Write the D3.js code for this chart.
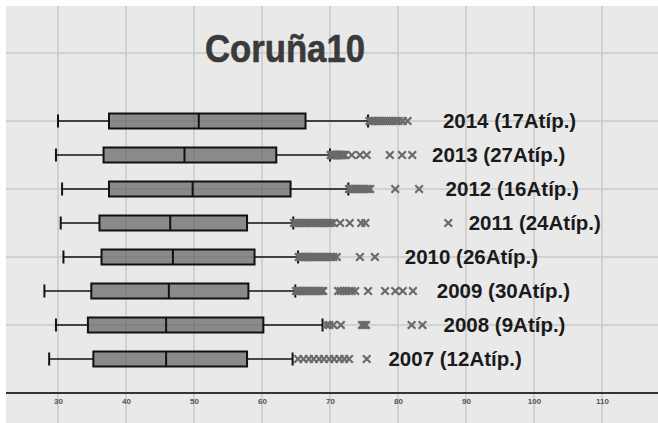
<!DOCTYPE html>
<html>
<head>
<meta charset="utf-8">
<script src="https://cdn.jsdelivr.net/npm/d3@7"></script>
<style>
  body { margin: 0; background: #fff; }
  svg { display: block; }
</style>
</head>
<body>
<div id="chart"></div>
<script>
// data
var years = ["2014", "2013", "2012", "2011", "2010", "2009", "2008", "2007"];
var lowWhisker  = [30.0, 29.7, 30.6, 30.4, 30.8, 28.0, 29.7, 28.7];
var q1          = [37.5, 36.7, 37.5, 36.1, 36.4, 34.9, 34.4, 35.2];
var median      = [50.7, 48.6, 49.8, 46.5, 46.9, 46.3, 45.9, 45.9];
var q3          = [66.4, 62.1, 64.2, 57.8, 58.9, 58.0, 60.2, 57.8];
var highWhisker = [75.6, 70.0, 72.7, 64.6, 65.3, 64.9, 68.9, 64.5];
var outliers = [
  [75.8, 76.1, 76.3, 76.6, 76.9, 77.1, 77.4, 77.7, 78.0, 78.3, 78.6, 78.9, 79.2, 79.6, 80.1, 80.7, 81.4],
  [70.1, 70.2, 70.3, 70.4, 70.5, 70.6, 70.7, 70.8, 70.9, 71.0, 71.1, 71.2, 71.3, 71.4, 71.5, 71.6, 71.7, 71.8, 71.9, 72.0,
   72.2, 73.2, 74.4, 75.4, 78.8, 80.6, 82.1],
  [72.8, 73.0, 73.2, 73.4, 73.6, 73.9, 74.1, 74.3, 74.6, 74.8, 75.1, 75.4, 75.6, 75.9, 79.6, 83.1],
  [64.7, 65.0, 65.3, 65.6, 65.9, 66.2, 66.5, 66.9, 67.2, 67.5, 67.8, 68.1, 68.4, 68.7, 69.1, 69.4, 69.8, 70.1, 70.5,
   71.5, 72.9, 74.6, 75.2, 87.4],
  [65.4, 65.6, 65.8, 66.0, 66.2, 66.4, 66.7, 66.9, 67.1, 67.3, 67.6, 67.8, 68.0, 68.3, 68.5, 68.7, 69.0, 69.2, 69.5, 69.7,
   70.0, 70.2, 70.5, 71.0, 74.4, 76.6],
  [65.0, 65.2, 65.4, 65.7, 65.9, 66.1, 66.4, 66.6, 66.8, 67.1, 67.3, 67.5, 67.8, 68.0, 68.3, 68.5, 68.8, 69.0,
   71.2, 71.6, 72.0, 72.4, 72.8, 73.2, 73.7, 75.6, 78.1, 79.6, 80.7, 82.2],
  [69.5, 69.9, 70.5, 71.6, 74.7, 75.0, 75.3, 82.0, 83.6],
  [65.3, 66.1, 66.9, 67.6, 68.4, 69.1, 69.9, 70.6, 71.4, 72.1, 72.8, 75.4]
];
var xTicks = [30, 40, 50, 60, 70, 80, 90, 100, 110];
var chartTitle = "Coruña10";

// label anchors, in axis units
var labelAt = [86.6, 85.0, 87.0, 90.4, 81.0, 85.7, 86.7, 78.6];

var w = 658, h = 423;
var axisY = 393;

var svg = d3.select("#chart").append("svg")
  .attr("width", w)
  .attr("height", h);

svg.append("rect")
  .attr("x", 6).attr("y", 6)
  .attr("width", w - 6).attr("height", h - 6)
  .attr("fill", "#e9e9e9");

var x = d3.scaleLinear().domain([30, 110]).range([58, 602]);
var y = d3.scaleBand().domain(years).range([104, 376]);
var mid = function(yr) { return y(yr) + y.bandwidth() / 2; };
var boxH = 15;
var gridStep = x(40) - x(30);

// grid
var grid = svg.append("g").attr("stroke", "#c9c9c9").attr("stroke-width", 1.5);
grid.selectAll("line.v")
  .data(xTicks)
  .enter().append("line")
  .attr("class", "v")
  .attr("x1", function(d) { return x(d); })
  .attr("x2", function(d) { return x(d); })
  .attr("y1", 6).attr("y2", h);

var hLines = d3.range(1, 6).map(function(k) { return axisY - k * gridStep; });
grid.selectAll("line.h")
  .data(hLines)
  .enter().append("line")
  .attr("class", "h")
  .attr("x1", 6).attr("x2", w)
  .attr("y1", function(d) { return d; })
  .attr("y2", function(d) { return d; });

// axis
var xAxis = d3.axisBottom(x).tickValues(xTicks).tickSize(0).tickPadding(5);
var ax = svg.append("g")
  .attr("transform", "translate(0," + axisY + ")")
  .call(xAxis);
ax.select(".domain").remove();
ax.selectAll("text")
  .attr("font-family", "Liberation Sans, Arial, sans-serif")
  .attr("font-size", 8)
  .attr("font-weight", "bold")
  .attr("fill", "#555");
svg.append("line")
  .attr("x1", 6).attr("x2", w)
  .attr("y1", axisY).attr("y2", axisY)
  .attr("stroke", "#333").attr("stroke-width", 2);

// boxes
var rows = svg.selectAll("g.row")
  .data(years)
  .enter().append("g")
  .attr("class", "row");

rows.append("line")
  .attr("x1", function(d, i) { return x(lowWhisker[i]); })
  .attr("x2", function(d, i) { return x(q1[i]); })
  .attr("y1", mid).attr("y2", mid)
  .attr("stroke", "#111").attr("stroke-width", 1.5);

rows.append("line")
  .attr("x1", function(d, i) { return x(q3[i]); })
  .attr("x2", function(d, i) { return x(highWhisker[i]); })
  .attr("y1", mid).attr("y2", mid)
  .attr("stroke", "#111").attr("stroke-width", 1.5);

rows.append("line")
  .attr("x1", function(d, i) { return x(lowWhisker[i]); })
  .attr("x2", function(d, i) { return x(lowWhisker[i]); })
  .attr("y1", function(d) { return mid(d) - 6.5; })
  .attr("y2", function(d) { return mid(d) + 6.5; })
  .attr("stroke", "#111").attr("stroke-width", 2);

rows.append("line")
  .attr("x1", function(d, i) { return x(highWhisker[i]); })
  .attr("x2", function(d, i) { return x(highWhisker[i]); })
  .attr("y1", function(d) { return mid(d) - 6.5; })
  .attr("y2", function(d) { return mid(d) + 6.5; })
  .attr("stroke", "#111").attr("stroke-width", 2);

rows.append("rect")
  .attr("x", function(d, i) { return x(q1[i]); })
  .attr("width", function(d, i) { return x(q3[i]) - x(q1[i]); })
  .attr("y", function(d) { return mid(d) - boxH / 2; })
  .attr("height", boxH)
  .attr("fill", "rgba(75,75,75,0.6)")
  .attr("stroke", "#111").attr("stroke-width", 2);

rows.append("line")
  .attr("x1", function(d, i) { return x(median[i]); })
  .attr("x2", function(d, i) { return x(median[i]); })
  .attr("y1", function(d) { return mid(d) - boxH / 2; })
  .attr("y2", function(d) { return mid(d) + boxH / 2; })
  .attr("stroke", "#111").attr("stroke-width", 2);

// outliers as crosses
var cross = "M-3.8,-3.8L3.8,3.8M-3.8,3.8L3.8,-3.8";
rows.each(function(yr, i) {
  d3.select(this).selectAll("path.out")
    .data(outliers[i])
    .enter().append("path")
    .attr("class", "out")
    .attr("d", cross)
    .attr("transform", function(v) { return "translate(" + x(v) + "," + mid(yr) + ")"; })
    .attr("fill", "none")
    .attr("stroke", "#6a6a6a")
    .attr("stroke-width", 2.2);
});

// year labels
rows.append("text")
  .attr("x", function(d, i) { return x(labelAt[i]); })
  .attr("y", function(d) { return mid(d) + 7.2; })
  .attr("font-family", "Liberation Sans, Arial, sans-serif")
  .attr("font-weight", "bold")
  .attr("font-size", 20.5)
  .attr("fill", "#1a1a1a")
  .text(function(d, i) { return d + " (" + outliers[i].length + "Atíp.)"; });

// title
svg.append("text")
  .attr("x", 205)
  .attr("y", 62)
  .attr("font-family", "Liberation Sans, Arial, sans-serif")
  .attr("font-weight", "bold")
  .attr("font-size", 39)
  .attr("textLength", 160)
  .attr("lengthAdjust", "spacingAndGlyphs")
  .attr("fill", "#3a3a3a")
  .attr("stroke", "#3a3a3a")
  .attr("stroke-width", 0.6)
  .text(chartTitle);
</script>
</body>
</html>
